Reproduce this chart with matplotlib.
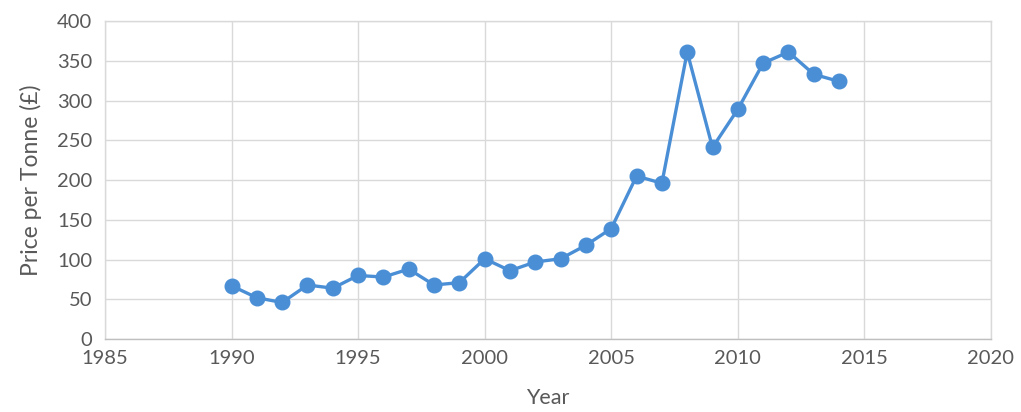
import matplotlib
matplotlib.use("Agg")
from matplotlib import pyplot as plt

# price per tonne by year
years = [1990, 1991, 1992, 1993, 1994, 1995, 1996, 1997, 1998, 1999,
         2000, 2001, 2002, 2003, 2004, 2005, 2006, 2007, 2008, 2009,
         2010, 2011, 2012, 2013, 2014]
prices = [67, 52, 46, 68, 64, 80, 78, 88, 68, 71,
          101, 86, 97, 101, 118, 139, 205, 196, 361, 241,
          289, 347, 361, 333, 324]

x_ticks = list(range(1985, 2021, 5))
y_ticks = list(range(0, 401, 50))

TEXT = '#595959'
GRID = '#d9d9d9'
BLUE = '#4a8fd6'

plt.rcParams['font.family'] = ['Lato', 'DejaVu Sans']

fig = plt.figure(figsize=(10.21, 4.12), dpi=100)
ax = fig.add_axes([0.1028, 0.177, 0.8678, 0.772])

ax.plot(years, prices, color=BLUE, linewidth=2.4, marker='o',
        markersize=10.5, markerfacecolor=BLUE, markeredgecolor=BLUE, zorder=3)

ax.set_xlim(1985, 2020)
ax.set_ylim(0, 400)
ax.set_xticks(x_ticks)
ax.set_yticks(y_ticks)
ax.grid(True, color=GRID, linewidth=1)
ax.set_axisbelow(True)
for s in ax.spines.values():
    s.set_color(GRID)
    s.set_linewidth(1)
ax.spines['bottom'].set_color('#bfbfbf')
ax.tick_params(length=0, labelsize=14.5, colors=TEXT)
ax.tick_params(axis='y', pad=9)
ax.tick_params(axis='x', pad=8)

ax.set_xlabel("Year", fontsize=15.5, color=TEXT, labelpad=15)
ax.set_ylabel("Price per Tonne (£)", fontsize=16.5, color=TEXT, labelpad=11)

fig.savefig("out.png", dpi=100)
